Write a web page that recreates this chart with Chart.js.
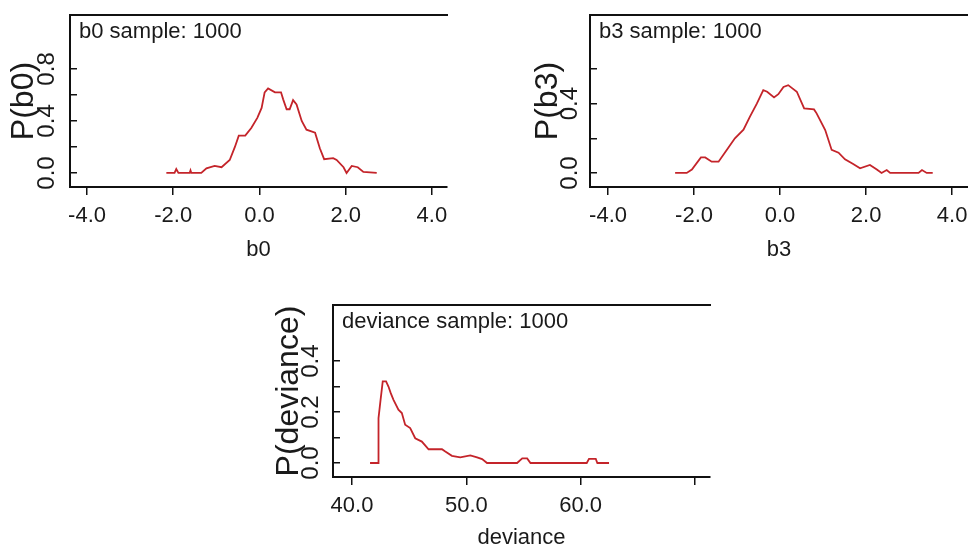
<!DOCTYPE html>
<html>
<head>
<meta charset="utf-8">
<script src="https://cdn.jsdelivr.net/npm/chart.js@4"></script>
<style>
  html, body { margin: 0; padding: 0; background: #fff; overflow: hidden; }
  body { width: 968px; height: 547px; position: relative; }
  .panel { position: absolute; }
</style>
</head>
<body>
<div class="panel" style="left:0px;top:0px;width:470px;height:270px"><canvas id="b0Chart"></canvas></div>
<div class="panel" style="left:510px;top:0px;width:458px;height:270px"><canvas id="b3Chart"></canvas></div>
<div class="panel" style="left:260px;top:290px;width:480px;height:259px"><canvas id="devChart"></canvas></div>
<script>
// b0 density
const b0X = [-2.16, -1.97, -1.93, -1.88, -1.62, -1.60, -1.58, -1.35, -1.23, -1.04, -0.88, -0.69, -0.57, -0.48, -0.33, -0.19, -0.05, 0.05, 0.12, 0.20, 0.36, 0.50, 0.55, 0.63, 0.70, 0.78, 0.86, 0.98, 1.09, 1.29, 1.40, 1.50, 1.71, 1.79, 1.95, 2.02, 2.14, 2.28, 2.41, 2.72];
const b0Y = [0, 0, 0.03, 0, 0, 0.02, 0, 0, 0.036, 0.054, 0.044, 0.10, 0.20, 0.287, 0.287, 0.346, 0.424, 0.50, 0.62, 0.65, 0.62, 0.62, 0.566, 0.49, 0.49, 0.56, 0.527, 0.40, 0.333, 0.31, 0.19, 0.106, 0.114, 0.10, 0.044, 0, 0.054, 0.044, 0.008, 0];

// b3 density
const b3X = [-2.44, -2.17, -2.05, -1.84, -1.74, -1.59, -1.43, -1.24, -1.05, -0.85, -0.70, -0.54, -0.39, -0.30, -0.14, -0.04, 0.08, 0.19, 0.39, 0.56, 0.79, 0.85, 1.05, 1.20, 1.36, 1.51, 1.70, 1.86, 2.09, 2.25, 2.36, 2.48, 2.56, 3.22, 3.30, 3.41, 3.55];
const b3Y = [0, 0, 0.02, 0.09, 0.09, 0.065, 0.065, 0.133, 0.20, 0.25, 0.325, 0.40, 0.478, 0.469, 0.436, 0.455, 0.497, 0.507, 0.469, 0.373, 0.367, 0.344, 0.248, 0.133, 0.117, 0.079, 0.052, 0.027, 0.046, 0.02, 0, 0.017, 0, 0, 0.017, 0, 0];

// deviance density
const devX = [41.58, 42.31, 42.32, 42.50, 42.69, 42.98, 43.19, 43.39, 43.63, 44.06, 44.36, 44.65, 45.09, 45.53, 46.11, 46.70, 47.87, 48.16, 48.74, 49.47, 50.35, 50.94, 51.38, 51.81, 54.44, 54.89, 55.32, 55.61, 60.53, 60.73, 61.32, 61.46, 62.48];
const devY = [0, 0, 0.176, 0.248, 0.32, 0.32, 0.30, 0.274, 0.248, 0.209, 0.196, 0.15, 0.137, 0.097, 0.084, 0.054, 0.054, 0.045, 0.028, 0.022, 0.03, 0.022, 0.015, 0, 0, 0.018, 0.018, 0, 0, 0.016, 0.016, 0, 0];

// tick values / labels
const bXTicks = [-4, -2, 0, 2, 4];
const b0YTicks = [0, 0.2, 0.4, 0.6, 0.8];
const b0YLabels = [0, 0.4, 0.8];
const b3YTicks = [0, 0.2, 0.4, 0.6];
const b3YLabels = [0, 0.4];
const devXTicks = [40, 50, 60, 70];
const devXLabels = [40, 50, 60];
const devYTicks = [0, 0.1, 0.2, 0.3, 0.4];
const devYLabels = [0, 0.2, 0.4];

const LINE = "#c4242a";
const AXIS = "#111";
const FONT = "'Liberation Sans', Arial, sans-serif";

// keep chart area exactly where the axes say
function noPad(s) {
    s.paddingTop = 0;
    s.paddingBottom = 0;
    s.paddingLeft = 0;
    s.paddingRight = 0;
}

function sampleTitle(text) {
    return {
        id: "sampleTitle",
        afterDraw(chart) {
            const ctx = chart.ctx;
            const a = chart.chartArea;
            ctx.save();
            ctx.font = "22px " + FONT;
            ctx.fillStyle = "#1a1a1a";
            ctx.textBaseline = "alphabetic";
            ctx.fillText(text, a.left + 9, a.top + 23);
            ctx.restore();
        }
    };
}

function makeChart(id, cfg) {
    const pts = cfg.xs.map((x, i) => ({ x: x, y: cfg.ys[i] }));
    new Chart(document.getElementById(id), {
        type: "line",
        data: {
            datasets: [{
                data: pts,
                borderColor: LINE,
                borderWidth: 1.8,
                pointRadius: 0,
                tension: 0,
                fill: false
            }]
        },
        options: {
            responsive: true,
            maintainAspectRatio: false,
            animation: false,
            layout: { padding: { left: 0, top: 15, right: cfg.padRight, bottom: 0 } },
            plugins: { legend: { display: false }, tooltip: { enabled: false } },
            scales: {
                x: {
                    type: "linear",
                    position: "bottom",
                    min: cfg.xMin,
                    max: cfg.xMax,
                    afterBuildTicks: s => { s.ticks = cfg.xTicks.map(v => ({ value: v })); },
                    afterFit: s => { s.height = cfg.xHeight; noPad(s); },
                    grid: { display: true, drawOnChartArea: false, drawTicks: true, tickLength: 8, color: AXIS, lineWidth: 1.5 },
                    border: { display: true, color: AXIS, width: 2 },
                    ticks: {
                        autoSkip: false,
                        maxRotation: 0,
                        padding: 10,
                        color: "#1a1a1a",
                        font: { family: FONT, size: 22, lineHeight: 1 },
                        callback: v => cfg.xLabels.includes(v) ? v.toFixed(1) : ""
                    },
                    title: {
                        display: true,
                        text: cfg.xTitle,
                        color: "#1a1a1a",
                        font: { family: FONT, size: 22, lineHeight: 1 },
                        padding: { top: 0, bottom: cfg.xTitlePad }
                    }
                },
                x2: {
                    type: "linear",
                    position: "top",
                    min: cfg.xMin,
                    max: cfg.xMax,
                    afterFit: s => { s.height = 0; noPad(s); },
                    grid: { display: false },
                    ticks: { display: false },
                    border: { display: true, color: AXIS, width: 2 }
                },
                y: {
                    type: "linear",
                    position: "left",
                    min: cfg.yMin,
                    max: cfg.yMax,
                    afterBuildTicks: s => { s.ticks = cfg.yTicks.map(v => ({ value: v })); },
                    afterFit: s => { s.width = cfg.yWidth; noPad(s); },
                    grid: { display: true, drawOnChartArea: false, drawTicks: true, tickLength: -7, color: AXIS, lineWidth: 1.5 },
                    border: { display: true, color: AXIS, width: 2 },
                    ticks: {
                        autoSkip: false,
                        minRotation: 90,
                        maxRotation: 90,
                        crossAlign: "center",
                        padding: cfg.yTickPad,
                        color: "#1a1a1a",
                        font: { family: FONT, size: 24, lineHeight: 1 },
                        callback: v => cfg.yLabels.some(l => Math.abs(l - v) < 1e-9) ? v.toFixed(1) : ""
                    },
                    title: {
                        display: true,
                        text: cfg.yTitle,
                        color: "#1a1a1a",
                        font: { family: FONT, size: 32, lineHeight: 1 },
                        padding: { top: cfg.yTitlePad, bottom: 0 }
                    }
                }
            }
        },
        plugins: [sampleTitle(cfg.title)]
    });
}

makeChart("b0Chart", {
    xs: b0X, ys: b0Y,
    xMin: -4.395, xMax: 4.35, xTicks: bXTicks, xLabels: bXTicks,
    yMin: -0.108, yMax: 1.215, yTicks: b0YTicks, yLabels: b0YLabels,
    xTitle: "b0", yTitle: "P(b0)", title: "b0 sample: 1000",
    padRight: 23, xHeight: 83, xTitlePad: 9, yWidth: 70, yTickPad: 13, yTitlePad: 8
});

makeChart("b3Chart", {
    xs: b3X, ys: b3Y,
    xMin: -4.419, xMax: 4.37, xTicks: bXTicks, xLabels: bXTicks,
    yMin: -0.081, yMax: 0.912, yTicks: b3YTicks, yLabels: b3YLabels,
    xTitle: "b3", yTitle: "P(b3)", title: "b3 sample: 1000",
    padRight: 0, xHeight: 83, xTitlePad: 9, yWidth: 80, yTickPad: 10, yTitlePad: 22
});

makeChart("devChart", {
    xs: devX, ys: devY,
    xMin: 38.34, xMax: 71.31, xTicks: devXTicks, xLabels: devXLabels,
    yMin: -0.055, yMax: 0.62, yTicks: devYTicks, yLabels: devYLabels,
    xTitle: "deviance", yTitle: "P(deviance)", title: "deviance sample: 1000",
    padRight: 30, xHeight: 72, xTitlePad: 0, yWidth: 73, yTickPad: 12, yTitlePad: 13
});
</script>
</body>
</html>
